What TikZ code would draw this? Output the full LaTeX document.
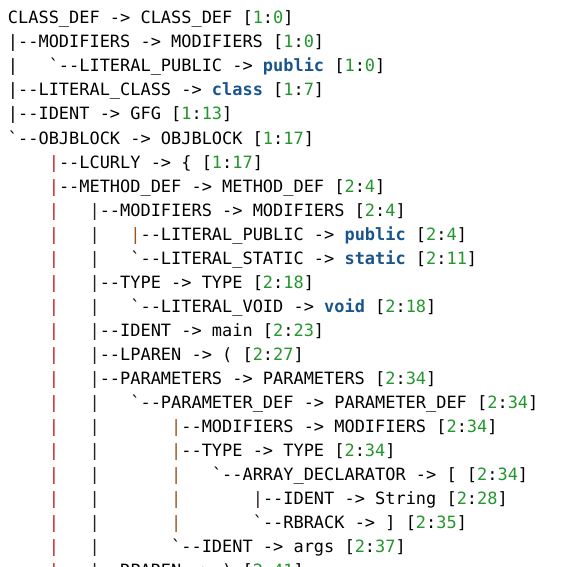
\documentclass[tikz,border=0pt]{standalone}
\usepackage{fontspec}
\newfontfamily\cmono{DejaVu Sans Mono}
\definecolor{kwc}{RGB}{25,85,140}
\definecolor{numc}{RGB}{35,150,45}
\definecolor{barred}{RGB}{200,30,30}
\definecolor{barbrn}{RGB}{150,85,25}
\definecolor{bardk}{RGB}{40,30,40}
\newcommand\bq{\char96\relax}
\newcommand\dd{-\kern0pt-}
\newcommand\ar{-\kern0pt>}
\newcommand\kw[1]{\textbf{\textcolor{kwc}{#1}}}
\newcommand\ps[2]{[\textcolor{numc}{#1}:\textcolor{numc}{#2}]}
\newcommand\Rn[5]{\node[tline,text=#4] (#1) at ({8+#2*10.2},{24+24*#3}) {#5};}
\begin{document}
\begin{tikzpicture}[x=1pt,y=-1pt,
  tline/.style={anchor=base west,inner sep=0pt,outer sep=0pt,font=\cmono\fontsize{16.94}{24}\selectfont}]
\useasboundingbox (0,0) rectangle (562,567);
\clip (0,0) rectangle (562,567);
% row 0
\Rn{t0}{0}{0}{black}{CLASS\_DEF \ar{} CLASS\_DEF \ps{1}{0}}
\Rn{t1}{0}{1}{black}{|\dd MODIFIERS \ar{} MODIFIERS \ps{1}{0}}
\Rn{b2a}{0}{2}{black}{|}
\Rn{t2}{4}{2}{black}{\bq\dd LITERAL\_PUBLIC \ar{} \kw{public} \ps{1}{0}}
\Rn{t3}{0}{3}{black}{|\dd LITERAL\_CLASS \ar{} \kw{class} \ps{1}{7}}
\Rn{t4}{0}{4}{black}{|\dd IDENT \ar{} GFG \ps{1}{13}}
\Rn{t5}{0}{5}{black}{\bq\dd OBJBLOCK \ar{} OBJBLOCK \ps{1}{17}}
% level 4
\Rn{b6a}{4}{6}{barred}{|}
\Rn{t6}{5}{6}{black}{\dd LCURLY \ar{} \{ \ps{1}{17}}
\Rn{b7a}{4}{7}{barred}{|}
\Rn{t7}{5}{7}{black}{\dd METHOD\_DEF \ar{} METHOD\_DEF \ps{2}{4}}
\Rn{b8a}{4}{8}{barred}{|}
\Rn{b8b}{8}{8}{bardk}{|}
\Rn{t8}{9}{8}{black}{\dd MODIFIERS \ar{} MODIFIERS \ps{2}{4}}
\Rn{b9a}{4}{9}{barred}{|}
\Rn{b9b}{8}{9}{bardk}{|}
\Rn{b9c}{12}{9}{barbrn}{|}
\Rn{t9}{13}{9}{black}{\dd LITERAL\_PUBLIC \ar{} \kw{public} \ps{2}{4}}
\Rn{b10a}{4}{10}{barred}{|}
\Rn{b10b}{8}{10}{bardk}{|}
\Rn{t10}{12}{10}{black}{\bq\dd LITERAL\_STATIC \ar{} \kw{static} \ps{2}{11}}
\Rn{b11a}{4}{11}{barred}{|}
\Rn{b11b}{8}{11}{bardk}{|}
\Rn{t11}{9}{11}{black}{\dd TYPE \ar{} TYPE \ps{2}{18}}
\Rn{b12a}{4}{12}{barred}{|}
\Rn{b12b}{8}{12}{bardk}{|}
\Rn{t12}{12}{12}{black}{\bq\dd LITERAL\_VOID \ar{} \kw{void} \ps{2}{18}}
\Rn{b13a}{4}{13}{barred}{|}
\Rn{b13b}{8}{13}{bardk}{|}
\Rn{t13}{9}{13}{black}{\dd IDENT \ar{} main \ps{2}{23}}
\Rn{b14a}{4}{14}{barred}{|}
\Rn{b14b}{8}{14}{bardk}{|}
\Rn{t14}{9}{14}{black}{\dd LPAREN \ar{} ( \ps{2}{27}}
\Rn{b15a}{4}{15}{barred}{|}
\Rn{b15b}{8}{15}{bardk}{|}
\Rn{t15}{9}{15}{black}{\dd PARAMETERS \ar{} PARAMETERS \ps{2}{34}}
\Rn{b16a}{4}{16}{barred}{|}
\Rn{b16b}{8}{16}{bardk}{|}
\Rn{t16}{12}{16}{black}{\bq\dd PARAMETER\_DEF \ar{} PARAMETER\_DEF \ps{2}{34}}
\Rn{b17a}{4}{17}{barred}{|}
\Rn{b17b}{8}{17}{bardk}{|}
\Rn{b17c}{16}{17}{barbrn}{|}
\Rn{t17}{17}{17}{black}{\dd MODIFIERS \ar{} MODIFIERS \ps{2}{34}}
\Rn{b18a}{4}{18}{barred}{|}
\Rn{b18b}{8}{18}{bardk}{|}
\Rn{b18c}{16}{18}{barbrn}{|}
\Rn{t18}{17}{18}{black}{\dd TYPE \ar{} TYPE \ps{2}{34}}
\Rn{b19a}{4}{19}{barred}{|}
\Rn{b19b}{8}{19}{bardk}{|}
\Rn{b19c}{16}{19}{barbrn}{|}
\Rn{t19}{20}{19}{black}{\bq\dd ARRAY\_DECLARATOR \ar{} [ \ps{2}{34}}
\Rn{b20a}{4}{20}{barred}{|}
\Rn{b20b}{8}{20}{bardk}{|}
\Rn{b20c}{16}{20}{barbrn}{|}
\Rn{b20d}{24}{20}{bardk}{|}
\Rn{t20}{25}{20}{black}{\dd IDENT \ar{} String \ps{2}{28}}
\Rn{b21a}{4}{21}{barred}{|}
\Rn{b21b}{8}{21}{bardk}{|}
\Rn{b21c}{16}{21}{barbrn}{|}
\Rn{t21}{24}{21}{black}{\bq\dd RBRACK \ar{} ] \ps{2}{35}}
\Rn{b22a}{4}{22}{barred}{|}
\Rn{b22b}{8}{22}{bardk}{|}
\Rn{t22}{16}{22}{black}{\bq\dd IDENT \ar{} args \ps{2}{37}}
\Rn{b23a}{4}{23}{barred}{|}
\Rn{b23b}{8}{23}{bardk}{|}
\Rn{t23}{9}{23}{black}{\dd RPAREN \ar{} ) \ps{2}{41}}
\end{tikzpicture}
\end{document}
